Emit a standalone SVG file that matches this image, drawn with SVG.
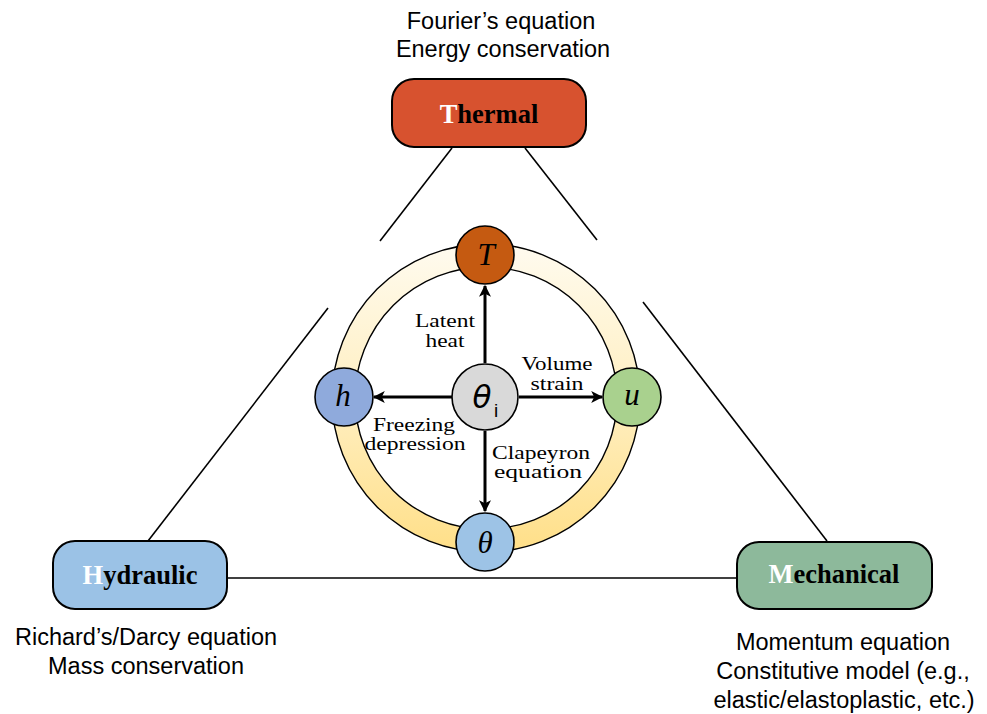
<svg xmlns="http://www.w3.org/2000/svg" width="987" height="714" viewBox="0 0 987 714">
<defs>
<linearGradient id="ringGrad" x1="0" y1="0" x2="0" y2="1">
<stop offset="0" stop-color="#FFFBEF"/>
<stop offset="0.5" stop-color="#FFEFC2"/>
<stop offset="1" stop-color="#FFDF88"/>
</linearGradient>
<marker id="arr" viewBox="0 0 10 10" refX="9" refY="5" markerWidth="4" markerHeight="4" orient="auto" markerUnits="strokeWidth">
<path d="M0,0 L10,5 L0,10 L2.5,5 Z" fill="#000"/>
</marker>
<style>
.box{stroke:#000;stroke-width:2}
.boxt{font-family:"Liberation Serif","Times New Roman",serif;font-weight:bold;font-size:26.5px;text-anchor:middle;fill:#000}
.wh{fill:#fff}
.desc{font-family:"Liberation Sans",Arial,sans-serif;font-size:23.5px;text-anchor:middle;fill:#000}
.lab{font-family:"Liberation Serif","Times New Roman",serif;font-size:19.5px;text-anchor:middle;fill:#000}
.sym{font-family:"Liberation Serif","Times New Roman",serif;font-style:italic;font-size:31px;text-anchor:middle;fill:#000}
.node{stroke:#000;stroke-width:1.6}
.tri{stroke:#000;stroke-width:1.6;fill:none}
.arrow{stroke:#000;stroke-width:3;fill:none;marker-end:url(#arr)}
</style>
</defs>
<rect width="987" height="714" fill="#fff"/>

<g id="connectors">
<line class="tri" x1="452" y1="148" x2="380" y2="241"/>
<line class="tri" x1="328" y1="308" x2="148" y2="541"/>
<line class="tri" x1="525" y1="148" x2="597" y2="240"/>
<line class="tri" x1="643" y1="302" x2="827" y2="541"/>
<line class="tri" x1="227" y1="578" x2="737" y2="578"/>
</g>

<g id="ring">
<path d="M332,398 a154,154 0 1,0 308,0 a154,154 0 1,0 -308,0 Z M355,398 a131,131 0 1,1 262,0 a131,131 0 1,1 -262,0 Z" fill="url(#ringGrad)" fill-rule="evenodd" stroke="#000" stroke-width="1.4"/>
</g>

<g id="arrows">
<line class="arrow" x1="485" y1="363" x2="485" y2="286"/>
<line class="arrow" x1="485" y1="431" x2="485" y2="511"/>
<line class="arrow" x1="452" y1="397" x2="374" y2="397"/>
<line class="arrow" x1="519" y1="397" x2="602" y2="397"/>
</g>

<g id="node-thermal">
<rect class="box" x="392" y="79" width="194" height="68" rx="22" fill="#D7522F"/>
<text class="boxt" x="489" y="123"><tspan class="wh">T</tspan>hermal</text>
<text class="desc" x="501" y="29">Fourier’s equation</text>
<text class="desc" x="503" y="57">Energy conservation</text>
</g>

<g id="node-hydraulic">
<rect class="box" x="53" y="541" width="174" height="68" rx="22" fill="#9BC2E6"/>
<text class="boxt" x="140" y="584"><tspan class="wh">H</tspan>ydraulic</text>
<text class="desc" x="146" y="645">Richard’s/Darcy equation</text>
<text class="desc" x="146" y="674">Mass conservation</text>
</g>

<g id="node-mechanical">
<rect class="box" x="737" y="542" width="195" height="67" rx="22" fill="#8DB99B"/>
<text class="boxt" x="834" y="583"><tspan class="wh">M</tspan>echanical</text>
<text class="desc" x="843" y="650">Momentum equation</text>
<text class="desc" x="843" y="679">Constitutive model (e.g.,</text>
<text class="desc" x="844" y="708">elastic/elastoplastic, etc.)</text>
</g>

<g id="node-T">
<circle class="node" cx="485" cy="255" r="29" fill="#C55A11"/>
<text class="sym" x="486" y="265">T</text>
</g>
<g id="node-h">
<circle class="node" cx="344" cy="397" r="29" fill="#8FAADC"/>
<text class="sym" x="343" y="406">h</text>
</g>
<g id="node-u">
<circle class="node" cx="632" cy="397" r="29" fill="#A9D18E"/>
<text class="sym" x="632" y="405">u</text>
</g>
<g id="node-theta">
<circle class="node" cx="485" cy="542" r="29" fill="#9DC3E6"/>
<text class="sym" x="485" y="553">θ</text>
</g>
<g id="node-theta-i">
<circle class="node" cx="485" cy="397" r="33" fill="#D9D9D9"/>
<text x="482" y="408" style="font-family:'DejaVu Sans','Liberation Sans',sans-serif;font-style:italic;font-size:31px;text-anchor:middle;fill:#000">θ</text>
<text x="496" y="417" style="font-family:'Liberation Sans',Arial,sans-serif;font-size:19px;text-anchor:middle;fill:#000">i</text>
</g>

<g id="labels">
<text class="lab" x="445" y="327" textLength="60" lengthAdjust="spacingAndGlyphs">Latent</text>
<text class="lab" x="445" y="347" textLength="39" lengthAdjust="spacingAndGlyphs">heat</text>
<text class="lab" x="557" y="370" textLength="71" lengthAdjust="spacingAndGlyphs">Volume</text>
<text class="lab" x="557" y="390" textLength="53" lengthAdjust="spacingAndGlyphs">strain</text>
<text class="lab" x="414" y="431" textLength="82" lengthAdjust="spacingAndGlyphs">Freezing</text>
<text class="lab" x="415" y="450" textLength="101" lengthAdjust="spacingAndGlyphs">depression</text>
<text class="lab" x="541" y="459" textLength="98" lengthAdjust="spacingAndGlyphs">Clapeyron</text>
<text class="lab" x="538" y="478" textLength="88" lengthAdjust="spacingAndGlyphs">equation</text>
</g>
</svg>
